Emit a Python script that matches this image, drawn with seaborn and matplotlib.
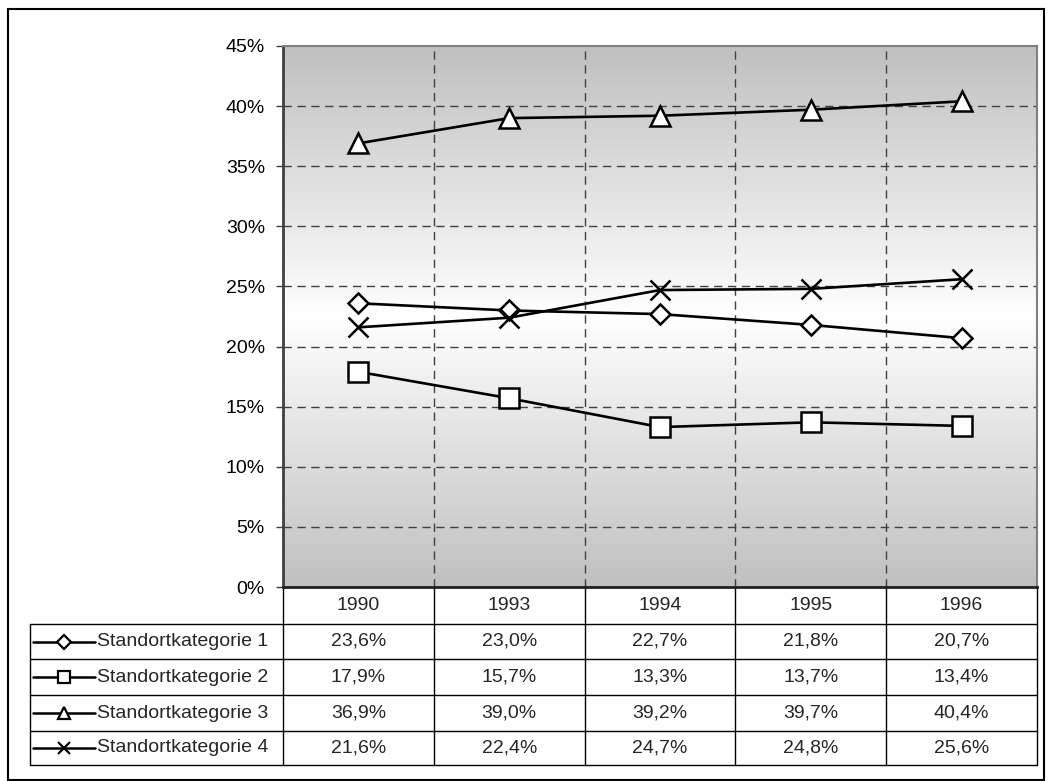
import numpy as np
import pandas as pd
import matplotlib
matplotlib.use("Agg")
import matplotlib.pyplot as plt
from matplotlib.lines import Line2D
from matplotlib.colors import LinearSegmentedColormap
import seaborn as sns

# --- data -------------------------------------------------------------
years = ["1990", "1993", "1994", "1995", "1996"]
series_names = ["Standortkategorie 1", "Standortkategorie 2",
                "Standortkategorie 3", "Standortkategorie 4"]
kat1 = [23.6, 23.0, 22.7, 21.8, 20.7]
kat2 = [17.9, 15.7, 13.3, 13.7, 13.4]
kat3 = [36.9, 39.0, 39.2, 39.7, 40.4]
kat4 = [21.6, 22.4, 24.7, 24.8, 25.6]
y_ticks = [0, 5, 10, 15, 20, 25, 30, 35, 40, 45]

series_values = [kat1, kat2, kat3, kat4]
markers = ["D", "s", "^", "x"]
marker_sizes = [10, 14, 14, 14]
legend_sizes = [7, 9, 9, 9]

sns.set_theme(style="white")
plt.rcParams["font.family"] = ["Liberation Sans", "DejaVu Sans"]
FS = 14

W, H = 1052, 781
fig = plt.figure(figsize=(W / 100, H / 100), dpi=100)
fig.patch.set_facecolor("white")

# pixel-coordinate canvas for the frame and the data table
base = fig.add_axes([0, 0, 1, 1])
base.set_xlim(0, W)
base.set_ylim(H, 0)
base.axis("off")

# chart geometry (pixels)
px0, px1 = 283, 1037
py_top, py_bot = 46, 587
ax = fig.add_axes([px0 / W, 1 - py_bot / H, (px1 - px0) / W, (py_bot - py_top) / H])

n = len(years)
ax.set_xlim(-0.5, n - 0.5)
ax.set_ylim(0, 45)

# grey -> white -> grey vertical gradient
t = np.linspace(-1, 1, 400)
grad = np.abs(t)[:, None]
cmap = LinearSegmentedColormap.from_list("bg", ["#ffffff", "#c0c0c0"])
ax.imshow(grad, extent=[-0.5, n - 0.5, 0, 45], aspect="auto", cmap=cmap,
          vmin=0, vmax=1, zorder=0, origin="lower")

# dashed grid
for yv in y_ticks[1:-1]:
    ax.axhline(yv, color="#404040", lw=1.0, ls=(0, (6, 4)), zorder=1)
for k in range(1, n):
    ax.axvline(k - 0.5, color="#404040", lw=1.0, ls=(0, (6, 4)), zorder=1)

# lines
pos = np.arange(n)
for name, vals, m, ms in zip(series_names, series_values, markers, marker_sizes):
    df = pd.DataFrame({"pos": pos, "value": vals})
    sns.lineplot(data=df, x="pos", y="value", ax=ax, color="black", lw=1.9,
                 marker=m, markersize=ms, markerfacecolor="white",
                 markeredgecolor="black", markeredgewidth=1.8, zorder=3)

ax.set_xlabel("")
ax.set_ylabel("")
ax.set_xticks([])
ax.set_yticks(y_ticks)
ax.set_yticklabels([f"{v}%" for v in y_ticks], fontsize=FS, color="black")
ax.tick_params(axis="y", direction="out", length=5, width=1, color="#404040",
               pad=8, left=True)
ax.grid(False)
for side in ["top", "right"]:
    ax.spines[side].set_color("#808080")
    ax.spines[side].set_linewidth(1.5)
ax.spines["left"].set_color("#404040")
ax.spines["left"].set_linewidth(2)
ax.spines["bottom"].set_color("#202020")
ax.spines["bottom"].set_linewidth(2)

# outer frame
base.add_patch(plt.Rectangle((8, 9), 1036, 771, fill=False, ec="black", lw=1.5))

# data table
col_edges = np.linspace(px0, px1, n + 1)
row_edges = [587, 624, 659, 695, 731, 765]
tab_left = 30
line_kw = dict(color="black", lw=1.0)
for yv in row_edges[1:]:
    base.plot([tab_left, px1], [yv, yv], **line_kw)
base.plot([tab_left, tab_left], [row_edges[1], row_edges[-1]], **line_kw)
for xv in col_edges:
    base.plot([xv, xv], [row_edges[0], row_edges[-1]], **line_kw)

col_centers = (col_edges[:-1] + col_edges[1:]) / 2
hdr_y = (row_edges[0] + row_edges[1]) / 2
for xc, yr in zip(col_centers, years):
    base.text(xc, hdr_y, yr, ha="center", va="center", fontsize=FS)

for i, (name, vals, m, lms) in enumerate(zip(series_names, series_values, markers, legend_sizes)):
    yc = (row_edges[i + 1] + row_edges[i + 2]) / 2
    base.add_line(Line2D([33, 95], [yc, yc], color="black", lw=1.8))
    base.add_line(Line2D([64], [yc], marker=m, markersize=lms, markerfacecolor="white",
                         markeredgecolor="black", markeredgewidth=1.6, ls="none"))
    base.text(97, yc, name, ha="left", va="center", fontsize=FS)
    for xc, v in zip(col_centers, vals):
        base.text(xc, yc, f"{v:.1f}%".replace(".", ","), ha="center", va="center",
                  fontsize=FS)

fig.savefig("out.png", dpi=100, facecolor="white")
